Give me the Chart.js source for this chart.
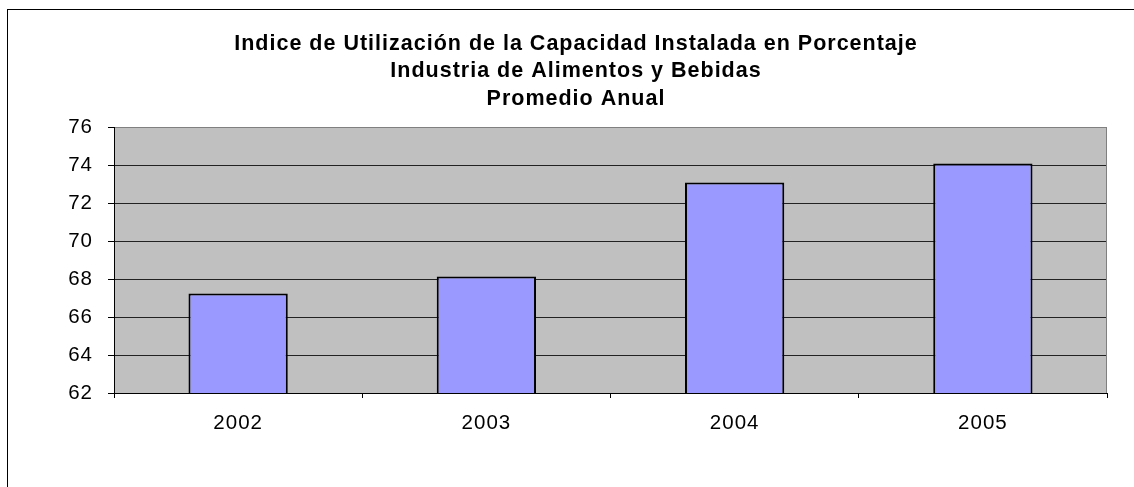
<!DOCTYPE html>
<html>
<head>
<meta charset="utf-8">
<script src="https://cdn.jsdelivr.net/npm/chart.js@4/dist/chart.umd.min.js"></script>
<style>
  html, body { margin: 0; padding: 0; background: #fff; overflow: hidden; }
  #frame {
    position: absolute; left: 7px; top: 9px;
    width: 1136px; height: 480px;
    border: 1px solid #000;
  }
  #chart { display: block; }
</style>
</head>
<body>
<div id="frame"><canvas id="chart" width="1136" height="480"></canvas></div>
<script>
// data
const years  = ['2002', '2003', '2004', '2005'];
const values = [67.25, 68.15, 73.1, 74.1];
const yTicks = [62, 64, 66, 68, 70, 72, 74, 76];
const titleLines = [
  'Indice de Utilización de la Capacidad Instalada en Porcentaje',
  'Industria de Alimentos y Bebidas',
  'Promedio Anual'
];

const FONT = 'Liberation Sans, Arial, sans-serif';

// Excel-ish spaced lettering; set before every layout since resize resets ctx
const spacing = {
  id: 'spacing',
  beforeUpdate(chart) { chart.ctx.letterSpacing = '1px'; },
  beforeDraw(chart) { chart.ctx.letterSpacing = '1px'; }
};

// grey plot background + grey right edge
const plotBg = {
  id: 'plotBg',
  beforeDraw(chart) {
    const { ctx, chartArea: a } = chart;
    ctx.save();
    ctx.fillStyle = '#c0c0c0';
    ctx.fillRect(a.left, a.top, a.right - a.left, a.bottom - a.top);
    ctx.restore();
  },
  afterDatasetsDraw(chart) {
    const { ctx, chartArea: a } = chart;
    ctx.save();
    ctx.strokeStyle = '#808080';
    ctx.lineWidth = 1;
    ctx.beginPath();
    ctx.moveTo(Math.round(a.right) - 0.5, a.top);
    ctx.lineTo(Math.round(a.right) - 0.5, a.bottom);
    ctx.stroke();
    ctx.restore();
  }
};

new Chart(document.getElementById('chart').getContext('2d'), {
  type: 'bar',
  data: {
    labels: years,
    datasets: [{
      data: values,
      backgroundColor: '#9999ff',
      borderColor: '#000',
      borderWidth: 2,
      borderSkipped: false,
      barPercentage: 0.4,
      categoryPercentage: 1
    }]
  },
  options: {
    responsive: false,
    animation: false,
    layout: { padding: 0 },
    plugins: {
      legend: { display: false },
      tooltip: { enabled: false },
      title: {
        display: true,
        text: titleLines,
        color: '#000',
        font: { family: FONT, size: 21.5, weight: 'bold', lineHeight: 1.28 },
        padding: { top: 20, bottom: 15 }
      }
    },
    scales: {
      x: {
        grid: { drawOnChartArea: false, drawTicks: true, tickLength: 5, color: '#000' },
        border: { display: true, color: '#000', width: 1 },
        ticks: {
          color: '#000',
          padding: 13,
          font: { family: FONT, size: 20.5 }
        },
        afterFit: s => { s.height = 97; }
      },
      y: {
        min: 62,
        max: 76,
        afterBuildTicks: s => { s.ticks = yTicks.map(v => ({ value: v })); },
        grid: {
          color: ctx => ctx.tick && ctx.tick.value === 76 ? '#808080' : '#222',
          tickColor: '#000',
          tickLength: 6,
          lineWidth: 1
        },
        border: { display: true, color: '#000', width: 1 },
        ticks: {
          color: '#000',
          padding: 15,
          font: { family: FONT, size: 20.5 }
        },
        afterFit: s => { s.width = 106; }
      },
      // empty right-hand strip so the plot stops short while the title stays centred
      yRight: {
        position: 'right',
        display: true,
        grid: { display: false },
        border: { display: false },
        ticks: { display: false },
        afterFit: s => { s.width = 37; }
      }
    }
  },
  plugins: [spacing, plotBg]
});
</script>
</body>
</html>
